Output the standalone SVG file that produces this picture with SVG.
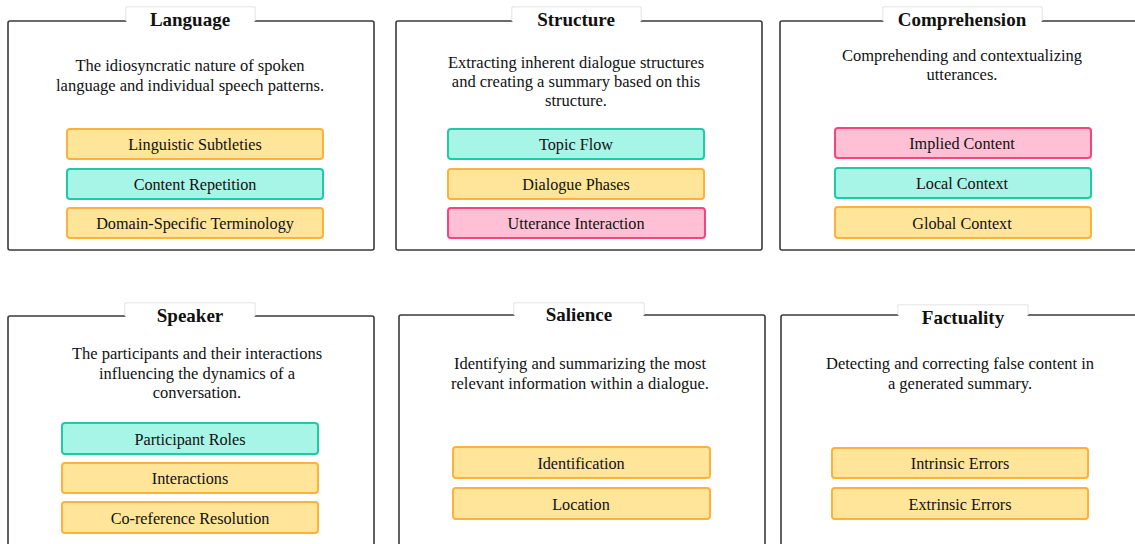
<svg xmlns="http://www.w3.org/2000/svg" width="1135" height="544" viewBox="0 0 1135 544">
<style>
.panel{fill:#fff;stroke:#3a3a3a;stroke-width:1.6}
.tab{fill:#fff;stroke:#d9d9d9;stroke-width:1}
.title{font-family:"Liberation Serif","DejaVu Serif",serif;font-size:19px;font-weight:bold;fill:#111;text-anchor:middle}
.desc{font-family:"Liberation Serif","DejaVu Serif",serif;font-size:16.5px;fill:#111;text-anchor:middle}
.lbl{font-family:"Liberation Serif","DejaVu Serif",serif;font-size:16.2px;fill:#111;text-anchor:middle}
.y{fill:#ffe599;stroke:#ffb13b;stroke-width:2}
.t{fill:#a7f5e7;stroke:#1ecba6;stroke-width:2}
.p{fill:#ffc0d6;stroke:#f7447a;stroke-width:2}
</style>
<g id="language">
<rect class="panel" x="8" y="21" width="366" height="229" rx="2"/>
<path class="tab" d="M126 21 V7 H255 V21" />
<rect x="126.5" y="7.5" width="128" height="15" fill="#fff"/>
<text class="title" x="190" y="26">Language</text>
<text class="desc" x="190" y="71">The idiosyncratic nature of spoken</text>
<text class="desc" x="190" y="91">language and individual speech patterns.</text>
<rect class="y" x="67" y="129" width="256" height="30" rx="3"/>
<text class="lbl" x="195" y="150">Linguistic Subtleties</text>
<rect class="t" x="67" y="169" width="256" height="30" rx="3"/>
<text class="lbl" x="195" y="190">Content Repetition</text>
<rect class="y" x="67" y="208" width="256" height="30" rx="3"/>
<text class="lbl" x="195" y="229">Domain-Specific Terminology</text>
</g>
<g id="structure">
<rect class="panel" x="396" y="21" width="366" height="229" rx="2"/>
<path class="tab" d="M512 21 V7 H641 V21" />
<rect x="512.5" y="7.5" width="128" height="15" fill="#fff"/>
<text class="title" x="576" y="26">Structure</text>
<text class="desc" x="576" y="68">Extracting inherent dialogue structures</text>
<text class="desc" x="576" y="87">and creating a summary based on this</text>
<text class="desc" x="576" y="106">structure.</text>
<rect class="t" x="448" y="129" width="256" height="30" rx="3"/>
<text class="lbl" x="576" y="150">Topic Flow</text>
<rect class="y" x="448" y="169" width="256" height="30" rx="3"/>
<text class="lbl" x="576" y="190">Dialogue Phases</text>
<rect class="p" x="448" y="208" width="257" height="30" rx="3"/>
<text class="lbl" x="576" y="229">Utterance Interaction</text>
</g>
<g id="comprehension">
<rect class="panel" x="780" y="21" width="370" height="229" rx="2"/>
<path class="tab" d="M883 21 V7 H1042 V21" />
<rect x="883.5" y="7.5" width="158" height="15" fill="#fff"/>
<text class="title" x="962" y="26">Comprehension</text>
<text class="desc" x="962" y="61">Comprehending and contextualizing</text>
<text class="desc" x="962" y="80">utterances.</text>
<rect class="p" x="835" y="128" width="256" height="30" rx="3"/>
<text class="lbl" x="962" y="149">Implied Content</text>
<rect class="t" x="835" y="168" width="256" height="30" rx="3"/>
<text class="lbl" x="962" y="189">Local Context</text>
<rect class="y" x="835" y="207" width="256" height="31" rx="3"/>
<text class="lbl" x="962" y="229">Global Context</text>
</g>
<g id="speaker">
<rect class="panel" x="8" y="316" width="366" height="250" rx="2"/>
<path class="tab" d="M125 316 V303 H255 V316" />
<rect x="125.5" y="303.5" width="129" height="14" fill="#fff"/>
<text class="title" x="190" y="322">Speaker</text>
<text class="desc" x="197" y="359">The participants and their interactions</text>
<text class="desc" x="197" y="379">influencing the dynamics of a</text>
<text class="desc" x="197" y="398">conversation.</text>
<rect class="t" x="62" y="423" width="256" height="31" rx="3"/>
<text class="lbl" x="190" y="445">Participant Roles</text>
<rect class="y" x="62" y="463" width="256" height="30" rx="3"/>
<text class="lbl" x="190" y="484">Interactions</text>
<rect class="y" x="62" y="502" width="256" height="31" rx="3"/>
<text class="lbl" x="190" y="524">Co-reference Resolution</text>
</g>
<g id="salience">
<rect class="panel" x="399" y="315" width="366" height="250" rx="2"/>
<path class="tab" d="M514 315 V303 H644 V315" />
<rect x="514.5" y="303.5" width="129" height="13" fill="#fff"/>
<text class="title" x="579" y="321">Salience</text>
<text class="desc" x="580" y="369">Identifying and summarizing the most</text>
<text class="desc" x="580" y="389">relevant information within a dialogue.</text>
<rect class="y" x="453" y="447" width="257" height="31" rx="3"/>
<text class="lbl" x="581" y="469">Identification</text>
<rect class="y" x="453" y="488" width="257" height="31" rx="3"/>
<text class="lbl" x="581" y="510">Location</text>
</g>
<g id="factuality">
<rect class="panel" x="781" y="315" width="370" height="250" rx="2"/>
<path class="tab" d="M898 315 V305 H1028 V315" />
<rect x="898.5" y="305.5" width="129" height="11" fill="#fff"/>
<text class="title" x="963" y="324">Factuality</text>
<text class="desc" x="960" y="369">Detecting and correcting false content in</text>
<text class="desc" x="960" y="389">a generated summary.</text>
<rect class="y" x="832" y="448" width="256" height="30" rx="3"/>
<text class="lbl" x="960" y="469">Intrinsic Errors</text>
<rect class="y" x="832" y="488" width="256" height="31" rx="3"/>
<text class="lbl" x="960" y="510">Extrinsic Errors</text>
</g>
<g id="connectors"></g>
</svg>
